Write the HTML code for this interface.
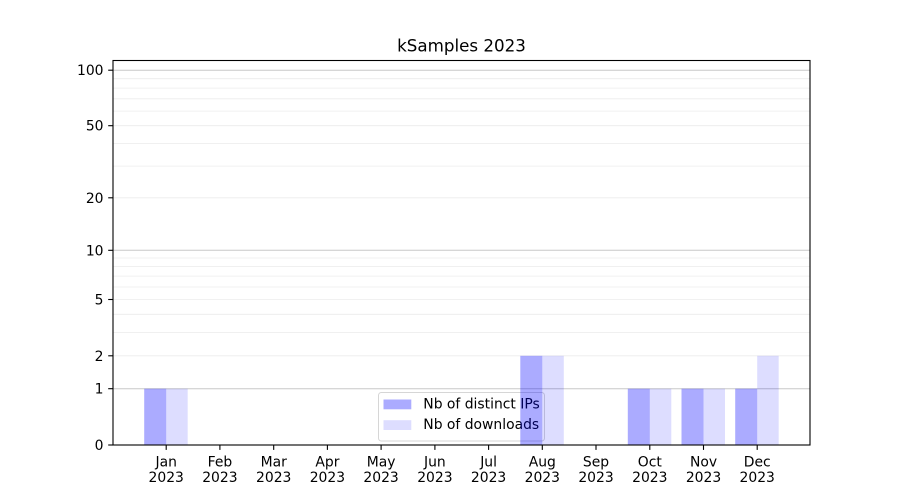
<!DOCTYPE html>
<html>
<head>
<meta charset="utf-8">
<style>
html,body{margin:0;padding:0;background:#fff;}
svg{display:block;}
text{font-family:"DejaVu Sans","Liberation Sans",sans-serif;fill:#000;}
</style>
</head>
<body>
<svg width="900" height="500" viewBox="0 0 900 500" xmlns="http://www.w3.org/2000/svg">
<rect x="0" y="0" width="900" height="500" fill="#fff"/>
<!-- minor grid -->
<g stroke="#ececec" stroke-width="0.8">
<line x1="113" x2="810" y1="355.8" y2="355.8"/>
<line x1="113" x2="810" y1="332.4" y2="332.4"/>
<line x1="113" x2="810" y1="314.3" y2="314.3"/>
<line x1="113" x2="810" y1="299.5" y2="299.5"/>
<line x1="113" x2="810" y1="287.0" y2="287.0"/>
<line x1="113" x2="810" y1="276.1" y2="276.1"/>
<line x1="113" x2="810" y1="266.6" y2="266.6"/>
<line x1="113" x2="810" y1="258.0" y2="258.0"/>
<line x1="113" x2="810" y1="197.8" y2="197.8"/>
<line x1="113" x2="810" y1="166.1" y2="166.1"/>
<line x1="113" x2="810" y1="143.4" y2="143.4"/>
<line x1="113" x2="810" y1="125.7" y2="125.7"/>
<line x1="113" x2="810" y1="111.1" y2="111.1"/>
<line x1="113" x2="810" y1="98.8" y2="98.8"/>
<line x1="113" x2="810" y1="88.1" y2="88.1"/>
<line x1="113" x2="810" y1="78.7" y2="78.7"/>
</g>
<!-- major grid -->
<g stroke="#c8c8c8" stroke-width="1">
<line x1="113" x2="810" y1="388.7" y2="388.7"/>
<line x1="113" x2="810" y1="250.3" y2="250.3"/>
<line x1="113" x2="810" y1="70.2" y2="70.2"/>
</g>
<!-- legend -->
<rect x="378.5" y="392.5" width="166" height="48.5" rx="2.8" ry="2.8" fill="rgba(255,255,255,0.8)" stroke="rgba(204,204,204,0.8)" stroke-width="1"/>
<rect x="383.5" y="399.5" width="27.8" height="9.8" fill="rgba(0,0,255,0.33)"/>
<rect x="383.5" y="420.2" width="27.8" height="9.8" fill="rgba(0,0,255,0.135)"/>
<text x="423.3" y="408.5" font-size="13.9">Nb of distinct IPs</text>
<text x="423.3" y="429.2" font-size="13.9">Nb of downloads</text>
<!-- bars -->
<g fill="rgba(0,0,255,0.33)">
<rect x="144.2" y="388.7" width="22" height="56.3"/>
<rect x="520.3" y="355.8" width="22" height="89.2"/>
<rect x="627.8" y="388.7" width="22" height="56.3"/>
<rect x="681.5" y="388.7" width="22" height="56.3"/>
<rect x="735.2" y="388.7" width="22" height="56.3"/>
</g>
<g fill="rgba(0,0,255,0.135)">
<rect x="166.2" y="388.7" width="21.5" height="56.3"/>
<rect x="542.3" y="355.8" width="21.5" height="89.2"/>
<rect x="649.8" y="388.7" width="21.5" height="56.3"/>
<rect x="703.5" y="388.7" width="21.5" height="56.3"/>
<rect x="757.2" y="355.8" width="21.5" height="89.2"/>
</g>
<!-- spines -->
<rect x="113" y="60.5" width="697" height="384.5" fill="none" stroke="#000" stroke-width="1.1"/>
<!-- y ticks -->
<g stroke="#000" stroke-width="1.1">
<line x1="108.2" x2="113" y1="445" y2="445"/>
<line x1="108.2" x2="113" y1="388.7" y2="388.7"/>
<line x1="108.2" x2="113" y1="355.8" y2="355.8"/>
<line x1="108.2" x2="113" y1="299.5" y2="299.5"/>
<line x1="108.2" x2="113" y1="250.3" y2="250.3"/>
<line x1="108.2" x2="113" y1="197.8" y2="197.8"/>
<line x1="108.2" x2="113" y1="125.7" y2="125.7"/>
<line x1="108.2" x2="113" y1="70.2" y2="70.2"/>
</g>
<g font-size="13.9" text-anchor="end">
<text x="103.5" y="450">0</text>
<text x="103.5" y="393.7">1</text>
<text x="103.5" y="360.8">2</text>
<text x="103.5" y="304.5">5</text>
<text x="103.5" y="255.3">10</text>
<text x="103.5" y="202.8">20</text>
<text x="103.5" y="130.7">50</text>
<text x="103.5" y="75.2">100</text>
</g>
<!-- x ticks -->
<g stroke="#000" stroke-width="1.1">
<line x1="166.2" x2="166.2" y1="445" y2="449.9"/>
<line x1="219.9" x2="219.9" y1="445" y2="449.9"/>
<line x1="273.7" x2="273.7" y1="445" y2="449.9"/>
<line x1="327.4" x2="327.4" y1="445" y2="449.9"/>
<line x1="381.1" x2="381.1" y1="445" y2="449.9"/>
<line x1="434.9" x2="434.9" y1="445" y2="449.9"/>
<line x1="488.6" x2="488.6" y1="445" y2="449.9"/>
<line x1="542.3" x2="542.3" y1="445" y2="449.9"/>
<line x1="596.0" x2="596.0" y1="445" y2="449.9"/>
<line x1="649.8" x2="649.8" y1="445" y2="449.9"/>
<line x1="703.5" x2="703.5" y1="445" y2="449.9"/>
<line x1="757.2" x2="757.2" y1="445" y2="449.9"/>
</g>
<g font-size="13.9" text-anchor="middle">
<text x="166.2" y="466.5">Jan</text><text x="166.2" y="482">2023</text>
<text x="219.9" y="466.5">Feb</text><text x="219.9" y="482">2023</text>
<text x="273.7" y="466.5">Mar</text><text x="273.7" y="482">2023</text>
<text x="327.4" y="466.5">Apr</text><text x="327.4" y="482">2023</text>
<text x="381.1" y="466.5">May</text><text x="381.1" y="482">2023</text>
<text x="434.9" y="466.5">Jun</text><text x="434.9" y="482">2023</text>
<text x="488.6" y="466.5">Jul</text><text x="488.6" y="482">2023</text>
<text x="542.3" y="466.5">Aug</text><text x="542.3" y="482">2023</text>
<text x="596.0" y="466.5">Sep</text><text x="596.0" y="482">2023</text>
<text x="649.8" y="466.5">Oct</text><text x="649.8" y="482">2023</text>
<text x="703.5" y="466.5">Nov</text><text x="703.5" y="482">2023</text>
<text x="757.2" y="466.5">Dec</text><text x="757.2" y="482">2023</text>
</g>
<!-- title -->
<text x="461.5" y="51.7" font-size="16.7" text-anchor="middle">kSamples 2023</text>
</svg>
</body>
</html>
